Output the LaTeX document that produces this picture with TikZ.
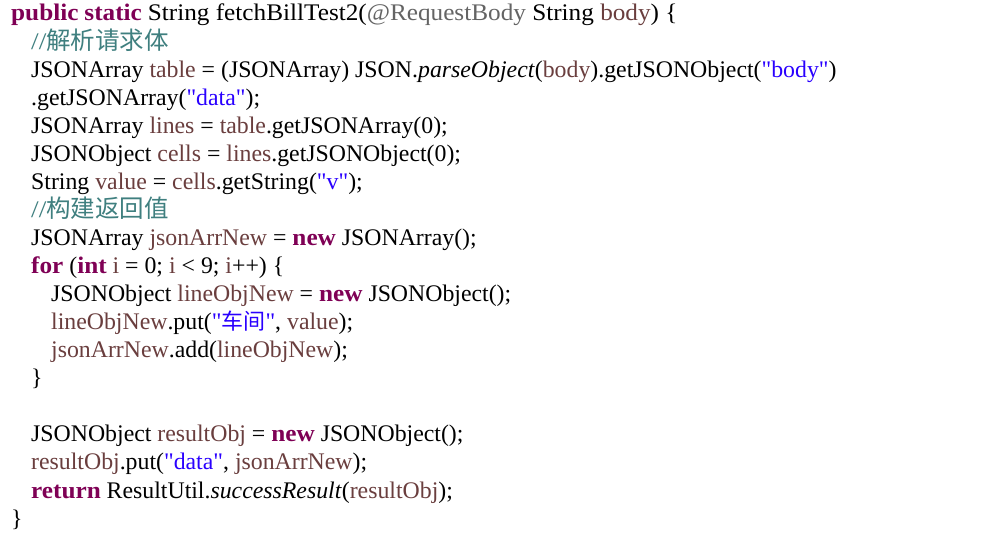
\documentclass[tikz,border=0pt]{standalone}
\usepackage{fontspec}
\setmainfont{Liberation Serif}[Ligatures=TeXOff]
\newfontfamily\cjk{Noto Sans CJK SC}
\definecolor{kwc}{HTML}{7F0055}
\definecolor{varc}{HTML}{6A3E3E}
\definecolor{strc}{HTML}{2A00FF}
\definecolor{cmc}{HTML}{3F7F7F}
\definecolor{anc}{HTML}{646464}
\newcommand{\kw}[1]{\textcolor{kwc}{\scalebox{1.06}[1]{\textbf{#1}}}}
\newcommand{\vr}[1]{\textcolor{varc}{#1}}
\newcommand{\st}[1]{\textcolor{strc}{#1}}
\newcommand{\an}[1]{\textcolor{anc}{#1}}
\newcommand{\cm}[1]{\textcolor{cmc}{#1}}
\newcommand{\zh}[1]{{\cjk\fontsize{24.5}{24}\selectfont #1}}
\newcommand{\zhs}[1]{{\cjk\fontsize{22}{22}\selectfont #1}}
\tikzset{codeline/.style={anchor=base west,inner sep=0pt,font=\fontsize{23.8}{26}\selectfont}}
\begin{document}
\begin{tikzpicture}[x=1pt,y=-1pt]
\useasboundingbox[fill=white] (0,0) rectangle (1005,535);
\def\b{28.06}
\node[codeline] (l1) at (11,21) {\kw{public} \kw{static} \scalebox{1.06}[1]{String fetchBillTest2(\an{@RequestBody} String \vr{body}) \{}};
\node[codeline] (l2) at (31,21+1*\b) {\cm{\scalebox{1.15}[1]{//}\zh{解析请求体}}};
\node[codeline] (l3) at (31,21+2*\b) {JSONArray \vr{table} = (JSONArray) JSON.\textit{parseObject}(\vr{body}).getJSONObject(\st{"body"})};
\node[codeline] (l4) at (31,21+3*\b) {.getJSONArray(\st{"data"});};
\node[codeline] (l5) at (31,21+4*\b) {JSONArray \vr{lines} = \vr{table}.getJSONArray(0);};
\node[codeline] (l6) at (31,21+5*\b) {JSONObject \vr{cells} = \vr{lines}.getJSONObject(0);};
\node[codeline] (l7) at (31,21+6*\b) {String \vr{value} = \vr{cells}.getString(\st{"v"});};
\node[codeline] (l8) at (31,21+7*\b) {\cm{\scalebox{1.15}[1]{//}\zh{构建返回值}}};
\node[codeline] (l9) at (31,21+8*\b) {JSONArray \vr{jsonArrNew} = \kw{new} JSONArray();};
\node[codeline] (l10) at (31,21+9*\b) {\kw{for} (\kw{int} \vr{i} = 0; \vr{i} < 9; \vr{i}++) \{};
\node[codeline] (l11) at (51,21+10*\b) {JSONObject \vr{lineObjNew} = \kw{new} JSONObject();};
\node[codeline] (l12) at (51,21+11*\b) {\vr{lineObjNew}.put(\st{"\zhs{车间}"}, \vr{value});};
\node[codeline] (l13) at (51,21+12*\b) {\vr{jsonArrNew}.add(\vr{lineObjNew});};
\node[codeline] (l14) at (31,21+13*\b) {\}};
\node[codeline] (l16) at (31,21+15*\b) {JSONObject \vr{resultObj} = \kw{new} JSONObject();};
\node[codeline] (l17) at (31,21+16*\b) {\vr{resultObj}.put(\st{"data"}, \vr{jsonArrNew});};
\node[codeline] (l18) at (31,21+17*\b) {\kw{return} ResultUtil.\textit{successResult}(\vr{resultObj});};
\node[codeline] (l19) at (11,21+18*\b) {\}};
\end{tikzpicture}
\end{document}
